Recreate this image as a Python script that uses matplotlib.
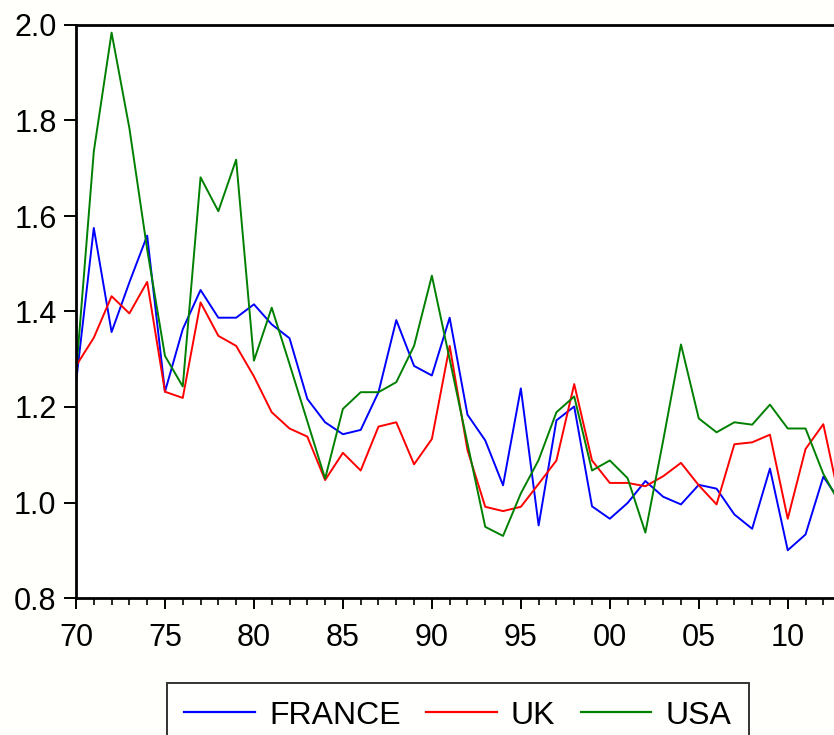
import matplotlib
matplotlib.use("Agg")
import matplotlib.pyplot as plt
from matplotlib.ticker import MultipleLocator, FuncFormatter

plt.rcParams['font.family'] = ['Liberation Sans', 'DejaVu Sans']

# --- DATA ---
years = list(range(1970, 2014))

france = [1.251, 1.575, 1.357, 1.461, 1.559, 1.232, 1.363, 1.445, 1.387, 1.387,
          1.415, 1.373, 1.344, 1.217, 1.168, 1.143, 1.152, 1.231, 1.382, 1.286,
          1.266, 1.387, 1.184, 1.130, 1.036, 1.239, 0.952, 1.172, 1.201, 0.992,
          0.966, 0.999, 1.045, 1.012, 0.996, 1.037, 1.029, 0.975, 0.945, 1.071,
          0.900, 0.933, 1.054, 1.000]

uk = [1.286, 1.345, 1.432, 1.396, 1.462, 1.232, 1.219, 1.419, 1.349, 1.328,
      1.264, 1.189, 1.155, 1.138, 1.047, 1.104, 1.067, 1.159, 1.168, 1.080,
      1.133, 1.328, 1.110, 0.991, 0.982, 0.991, 1.039, 1.088, 1.248, 1.088,
      1.041, 1.041, 1.034, 1.055, 1.083, 1.036, 0.996, 1.122, 1.126, 1.142,
      0.966, 1.112, 1.164, 0.990]

usa = [1.268, 1.735, 1.984, 1.784, 1.530, 1.307, 1.243, 1.681, 1.610, 1.718,
       1.297, 1.408, 1.290, 1.170, 1.050, 1.196, 1.231, 1.231, 1.252, 1.328,
       1.475, 1.300, 1.124, 0.949, 0.930, 1.019, 1.089, 1.189, 1.222, 1.067,
       1.088, 1.051, 0.937, 1.130, 1.331, 1.176, 1.147, 1.168, 1.163, 1.205,
       1.155, 1.155, 1.060, 0.993]

series_names = ["FRANCE", "UK", "USA"]
series_colors = ["#0000ff", "#ff0000", "#008000"]

# --- PLOT ---
fig = plt.figure(figsize=(8.34, 7.35), dpi=100, facecolor='#fffffb')
ax = fig.add_axes([76/834, 137/735, 758/834, 573/735])
ax.set_facecolor('white')

for vals, name, col in zip([france, uk, usa], series_names, series_colors):
    ax.plot(years, vals, color=col, lw=1.4, label=name)

ax.set_xlim(1970, 2012.6)
ax.set_ylim(0.8, 2.0)

ax.xaxis.set_major_locator(MultipleLocator(5))
ax.xaxis.set_minor_locator(MultipleLocator(1))
ax.xaxis.set_major_formatter(FuncFormatter(lambda v, p: f"{int(v) % 100:02d}"))
ax.yaxis.set_major_locator(MultipleLocator(0.2))
ax.yaxis.set_major_formatter(FuncFormatter(lambda v, p: f"{v:.1f}"))

ax.spines['right'].set_visible(False)
for s in ['left', 'top', 'bottom']:
    ax.spines[s].set_linewidth(2.0)

ax.tick_params(axis='both', which='major', labelsize=22, direction='out', width=1.4)
ax.tick_params(axis='x', which='major', length=8, pad=10)
ax.tick_params(axis='x', which='minor', length=5, width=1.2)
ax.tick_params(axis='y', which='major', length=9, pad=5)

# legend box runs off the bottom edge, like the reference
leg = fig.legend(loc='upper center', bbox_to_anchor=(458/834, 1 - 683/735),
                 ncol=3, fontsize=23, frameon=True, fancybox=False,
                 edgecolor='black', handlelength=2.2, handletextpad=0.45,
                 columnspacing=0.8, borderpad=0.55, borderaxespad=0)
leg.get_frame().set_linewidth(1.4)
for line in leg.get_lines():
    line.set_linewidth(1.6)

fig.savefig("out.png", dpi=100, facecolor=fig.get_facecolor())
